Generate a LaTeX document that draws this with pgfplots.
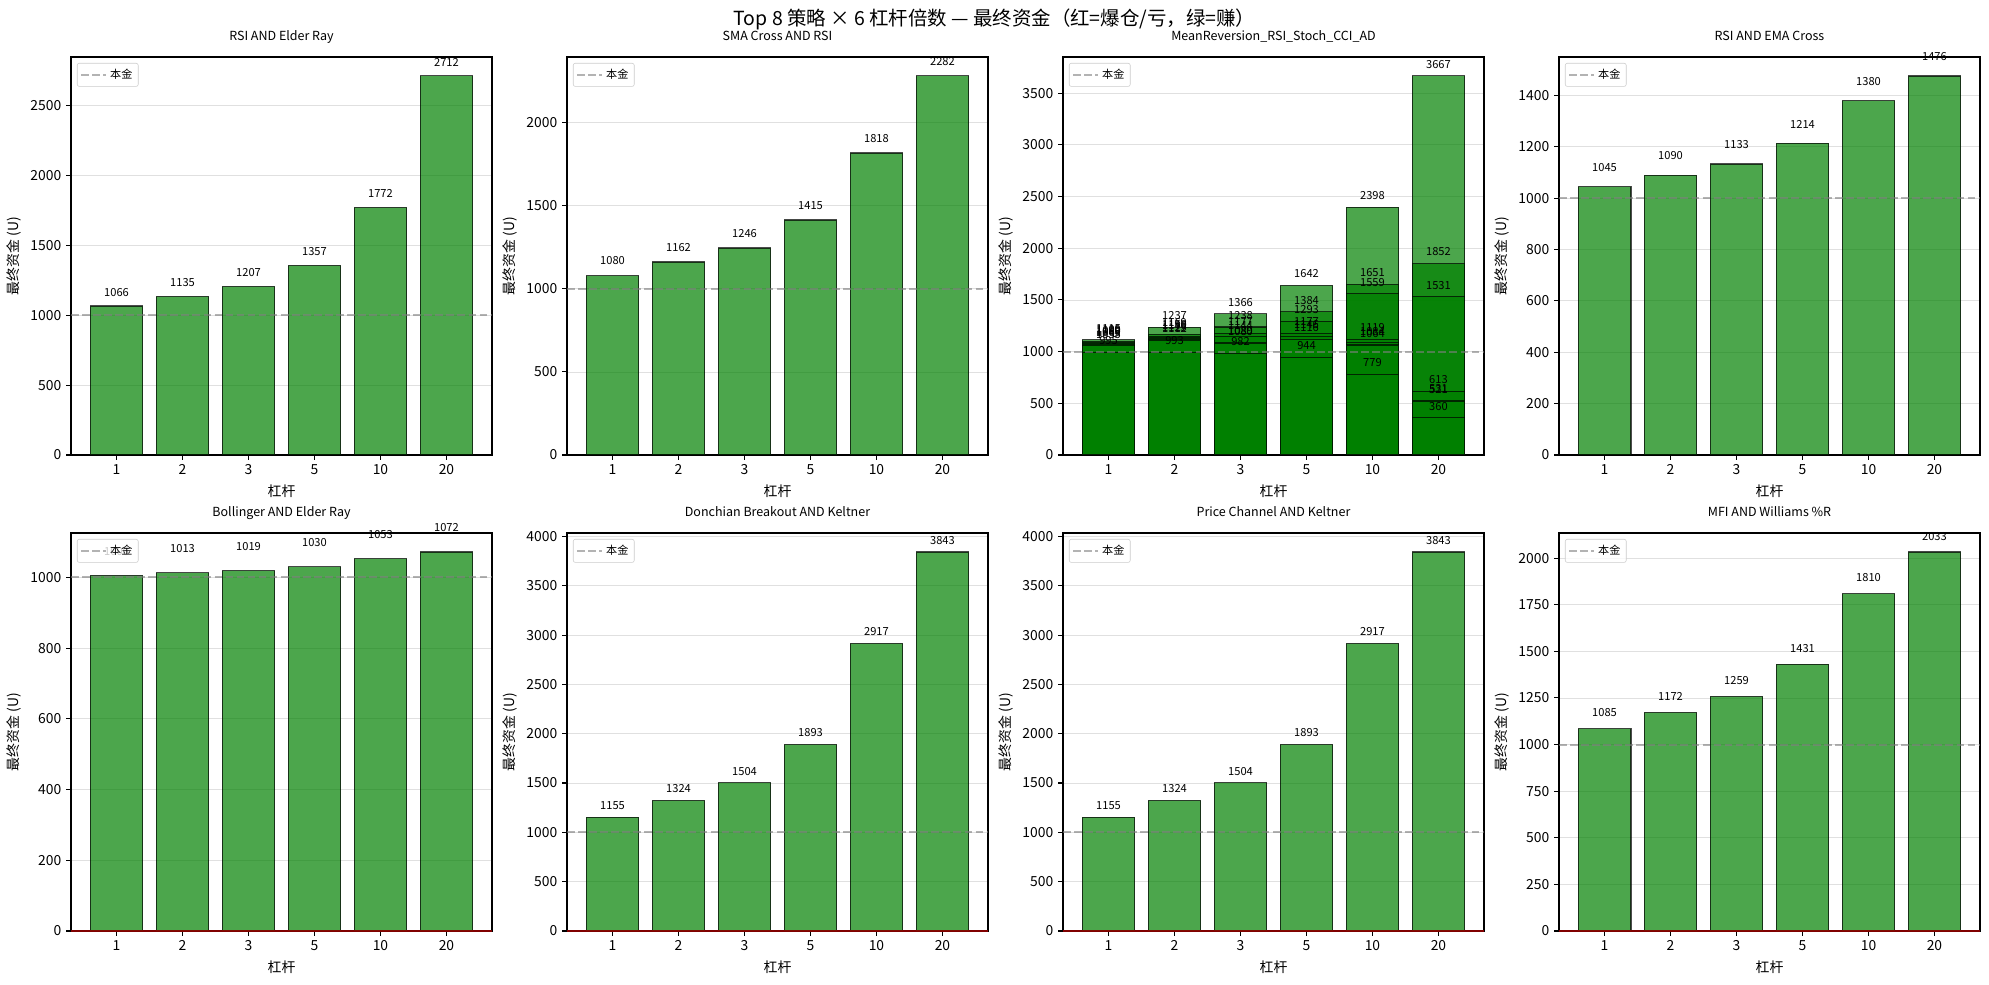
\documentclass[border=0pt]{standalone}
\usepackage{fontspec}
\setmainfont{Noto Sans CJK SC}
\usepackage{pgfplots}
\usepackage{pgfplotstable}
\pgfplotsset{compat=1.18}
\definecolor{mplgreen}{RGB}{0,128,0}

\pgfplotstableread{
x y
0 1066
1 1135
2 1207
3 1357
4 1772
5 2712
}\dataA
\pgfplotstableread{
x y
0 1080
1 1162
2 1246
3 1415
4 1818
5 2282
}\dataB
\pgfplotstableread{
x a b c d e f g
0 1115 1100 1089 1080 1069 1055 995
1 1237 1169 1150 1140 1125 1112 993
2 1366 1238 1177 1144 1089 1080 982
3 1642 1384 1293 1177 1146 1116 944
4 2398 1651 1559 1119 1084 1064 779
5 3667 1852 1531 613 531 521 360
}\dataC
\pgfplotstableread{
x y
0 1045
1 1090
2 1133
3 1214
4 1380
5 1476
}\dataD
\pgfplotstableread{
x y
0 1006
1 1013
2 1019
3 1030
4 1053
5 1072
}\dataE
\pgfplotstableread{
x y
0 1155
1 1324
2 1504
3 1893
4 2917
5 3843
}\dataF
\pgfplotstableread{
x y
0 1155
1 1324
2 1504
3 1893
4 2917
5 3843
}\dataG
\pgfplotstableread{
x y
0 1085
1 1172
2 1259
3 1431
4 1810
5 2033
}\dataH

\pgfplotsset{
  panel/.style={
    scale only axis, width=303.12pt, height=286.56pt, anchor=south west,
    xmin=-0.69, xmax=5.69, ymin=0,
    xtick={0,1,2,3,4,5}, xticklabels={1,2,3,5,10,20},
    tick align=outside, xtick pos=bottom, ytick pos=left,
    major tick length=3.5pt,
    major tick style={line width=0.8pt, black},
    axis line style={line width=0.8pt},
    ymajorgrids, major grid style={draw=black!12, line width=0.6pt},
    scaled y ticks=false,
    xlabel={杠杆}, ylabel={最终资金 (U)},
    tick label style={font=\fontsize{10}{12}\selectfont},
    label style={font=\fontsize{10}{12}\selectfont},
    title style={font=\fontsize{9}{11}\selectfont, anchor=base, yshift=6pt},
    /pgf/number format/assume math mode=true,
    /pgf/number format/1000 sep={},
    clip=false,
    legend style={at={(0,1)}, anchor=north west, xshift=4.3pt, yshift=-4.3pt,
      draw=black!20, rounded corners=1.5pt, fill=white, fill opacity=0.8, text opacity=1,
      font=\fontsize{8}{9}\selectfont, inner sep=2.2pt},
    legend cell align=left,
    legend image code/.code={\draw[##1] (0pt,0pt) -- (18pt,0pt);},
  },
  mybar/.style={ybar, bar width=0.8, bar shift=0pt, fill=mplgreen, fill opacity=0.7,
    draw=black, draw opacity=0.7, line width=0.8pt, forget plot},
  refline/.style={color=gray, opacity=0.6, line width=1.5pt, dash pattern=on 5.55pt off 2.4pt, mark=none},
  redzero/.style={color=red, opacity=0.5, line width=0.8pt, mark=none, forget plot},
  barlbl/.style={draw=none, mark=none, forget plot,
    y filter/.expression={y+50},
    point meta=explicit symbolic,
    nodes near coords={\pgfplotspointmeta},
    nodes near coords style={anchor=south, font=\fontsize{8}{9}\selectfont, inner sep=1.5pt, text=black}},
}

\newcommand{\simplepanel}[7]{%
\begin{axis}[panel, at={(#1,#2)}, title={#3}, ytick distance=#5, ymax=#6]
\addplot[mybar] table[x=x,y=y]{#4};
#7
\addplot[refline] coordinates {(-0.69,1000) (5.69,1000)};
\addlegendentry{本金}
\addplot[barlbl] table[x=x,y=y,meta=y]{#4};
\end{axis}}

\begin{document}
\begin{tikzpicture}
\useasboundingbox (0pt,0pt) rectangle (1432.08pt,709.2pt);
\node[font=\fontsize{14}{16}\selectfont] at (716.04pt,695.5pt) {Top 8 策略 × 6 杠杆倍数 — 最终资金（红=爆仓/亏，绿=赚）};

\simplepanel{51.12pt}{381.6pt}{RSI AND Elder Ray}{\dataA}{500}{2847.6}{}
\simplepanel{408.24pt}{381.6pt}{SMA Cross AND RSI}{\dataB}{500}{2396.1}{}

\begin{axis}[panel, at={(765.36pt,381.6pt)}, title={MeanReversion\_RSI\_Stoch\_CCI\_AD}, ytick distance=500, ymax=3850.35]
\pgfplotsinvokeforeach{a,b,c,d,e,f,g}{\addplot[mybar] table[x=x,y=#1]{\dataC};}
\addplot[refline] coordinates {(-0.69,1000) (5.69,1000)};
\addlegendentry{本金}
\pgfplotsinvokeforeach{a,b,c,d,e,f,g}{\addplot[barlbl] table[x=x,y=#1,meta=#1]{\dataC};}
\end{axis}

\simplepanel{1122.48pt}{381.6pt}{RSI AND EMA Cross}{\dataD}{200}{1549.8}{}

\simplepanel{51.12pt}{38.88pt}{Bollinger AND Elder Ray}{\dataE}{200}{1125.6}{\addplot[redzero] coordinates {(-0.69,0) (5.69,0)};}
\simplepanel{408.24pt}{38.88pt}{Donchian Breakout AND Keltner}{\dataF}{500}{4035.15}{\addplot[redzero] coordinates {(-0.69,0) (5.69,0)};}
\simplepanel{765.36pt}{38.88pt}{Price Channel AND Keltner}{\dataG}{500}{4035.15}{\addplot[redzero] coordinates {(-0.69,0) (5.69,0)};}
\simplepanel{1122.48pt}{38.88pt}{MFI AND Williams \%R}{\dataH}{250}{2134.65}{\addplot[redzero] coordinates {(-0.69,0) (5.69,0)};}
\end{tikzpicture}
\end{document}
